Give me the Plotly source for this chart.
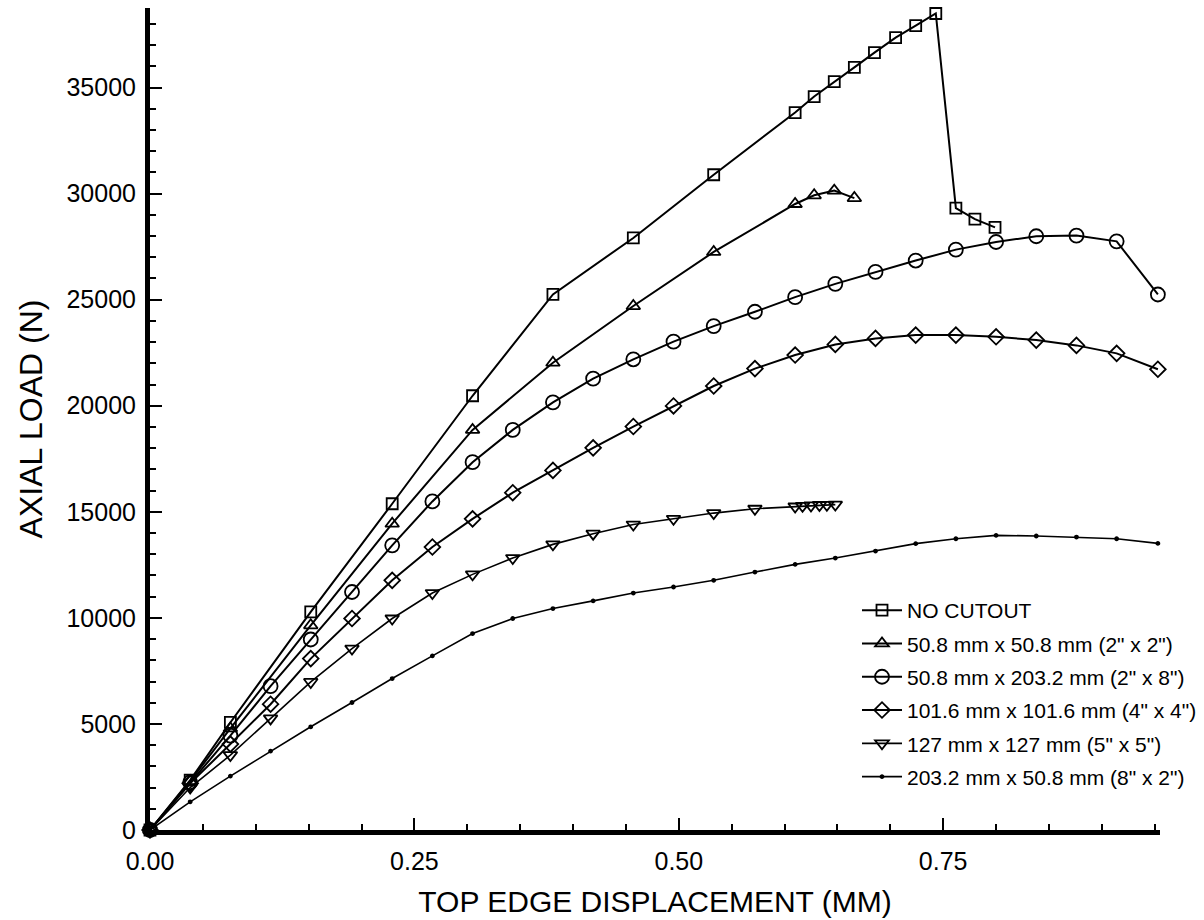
import plotly.graph_objects as go

# ---- data ----
names = [
    "NO CUTOUT",
    "50.8 mm x 50.8 mm (2\" x 2\")",
    "50.8 mm x 203.2 mm (2\" x 8\")",
    "101.6 mm x 101.6 mm (4\" x 4\")",
    "127 mm x 127 mm (5\" x 5\")",
    "203.2 mm x 50.8 mm (8\" x 2\")",
]

x_nocut = [0, 0.038, 0.076, 0.152, 0.229, 0.305, 0.381, 0.457, 0.533, 0.610,
           0.628, 0.647, 0.666, 0.685, 0.705, 0.724, 0.743, 0.762, 0.780, 0.799]
y_nocut = [0, 2350, 5070, 10280, 15380, 20470, 25250, 27910, 30890, 33820,
           34575, 35280, 35950, 36645, 37350, 37915, 38490, 29320, 28800, 28410]

x_2x2 = [0, 0.038, 0.076, 0.152, 0.229, 0.305, 0.381, 0.457, 0.533, 0.610,
         0.628, 0.647, 0.666]
y_2x2 = [0, 2300, 4790, 9650, 14440, 18860, 22030, 24700, 27250, 29510,
         29920, 30140, 29790]

x_full = [0, 0.038, 0.076, 0.114, 0.152, 0.191, 0.229, 0.267, 0.305, 0.343,
          0.381, 0.419, 0.457, 0.495, 0.533, 0.572, 0.610, 0.648, 0.686, 0.724,
          0.762, 0.800, 0.838, 0.876, 0.914, 0.953]
y_2x8 = [0, 2250, 4450, 6780, 8980, 11220, 13420, 15490, 17340, 18860,
         20160, 21280, 22190, 23020, 23755, 24430, 25120, 25745, 26310, 26845,
         27360, 27720, 27990, 28020, 27750, 25245]
y_4x4 = [0, 2200, 4050, 5930, 8080, 9970, 11770, 13340, 14670, 15900,
         16950, 18015, 19020, 19990, 20930, 21750, 22390, 22890, 23175, 23330,
         23330, 23250, 23095, 22845, 22470, 21720]

x_5x5 = [0, 0.038, 0.076, 0.114, 0.152, 0.191, 0.229, 0.267, 0.305, 0.343,
         0.381, 0.419, 0.457, 0.495, 0.533, 0.572, 0.610, 0.617, 0.625, 0.633,
         0.640, 0.648]
y_5x5 = [0, 2000, 3530, 5260, 6980, 8550, 9970, 11170, 12050, 12820,
         13465, 13970, 14400, 14670, 14940, 15145, 15250, 15280, 15300, 15320,
         15330, 15340]

y_8x2 = [0, 1330, 2540, 3720, 4865, 6010, 7140, 8210, 9260, 9970,
         10440, 10800, 11170, 11455, 11770, 12160, 12520, 12820, 13150, 13500,
         13730, 13890, 13860, 13810, 13730, 13510]

xs = [x_nocut, x_2x2, x_full, x_full, x_5x5, x_full]
ys = [y_nocut, y_2x2, y_2x8, y_4x4, y_5x5, y_8x2]
symbols = ["square-open", "triangle-up-open", "circle-open", "diamond-open",
           "triangle-down-open", "circle"]
msizes = [11, 12, 14, 12, 12, 3]
lwidths = [2, 2, 2, 2, 1.6, 1.6]

FONT = "Liberation Sans, Arial, Helvetica, sans-serif"

fig = go.Figure()
for i in range(len(names)):
    fig.add_trace(go.Scatter(
        x=xs[i], y=ys[i], name=names[i], mode="lines+markers",
        legendgroup="g%d" % i,
        line=dict(color="black", width=lwidths[i]),
        marker=dict(symbol=symbols[i], size=msizes[i], color="black",
                    line=dict(color="black", width=1.8)),
        cliponaxis=False,
    ))

fig.update_xaxes(
    range=[0, 0.955], showline=True, linewidth=5, linecolor="black",
    ticks="inside", ticklen=12, tickwidth=2, tickcolor="black",
    tick0=0, dtick=0.25, tickformat=".2f",
    minor=dict(ticks="inside", ticklen=6, tickwidth=2, tickcolor="black",
               dtick=0.05, showgrid=False),
    showgrid=False, zeroline=False,
    tickfont=dict(family=FONT, size=25, color="black"),
    ticklabelstandoff=5,
    title=dict(text="TOP EDGE DISPLACEMENT (MM)",
               font=dict(family=FONT, size=30, color="black"), standoff=18),
)
fig.update_yaxes(
    range=[0, 38750], showline=True, linewidth=5, linecolor="black",
    ticks="inside", ticklen=12, tickwidth=2, tickcolor="black",
    tick0=0, dtick=5000, tickformat="d",
    minor=dict(ticks="inside", ticklen=6, tickwidth=2, tickcolor="black",
               dtick=1000, showgrid=False),
    showgrid=False, zeroline=False,
    tickfont=dict(family=FONT, size=25, color="black"),
    ticklabelstandoff=4,
    title=dict(text="AXIAL LOAD (N)",
               font=dict(family=FONT, size=32, color="black"), standoff=16),
)

fig.update_layout(
    width=1204, height=920,
    margin=dict(l=150, r=44, t=8, b=90, autoexpand=False),
    paper_bgcolor="white", plot_bgcolor="white",
    font=dict(family=FONT, color="black"),
    showlegend=True,
    legend=dict(x=0.70, y=0.292, xanchor="left", yanchor="top",
                font=dict(family=FONT, size=21, color="black"),
                bgcolor="rgba(0,0,0,0)", tracegroupgap=3,
                itemwidth=40, traceorder="grouped"),
)

fig.write_html("out.html")
